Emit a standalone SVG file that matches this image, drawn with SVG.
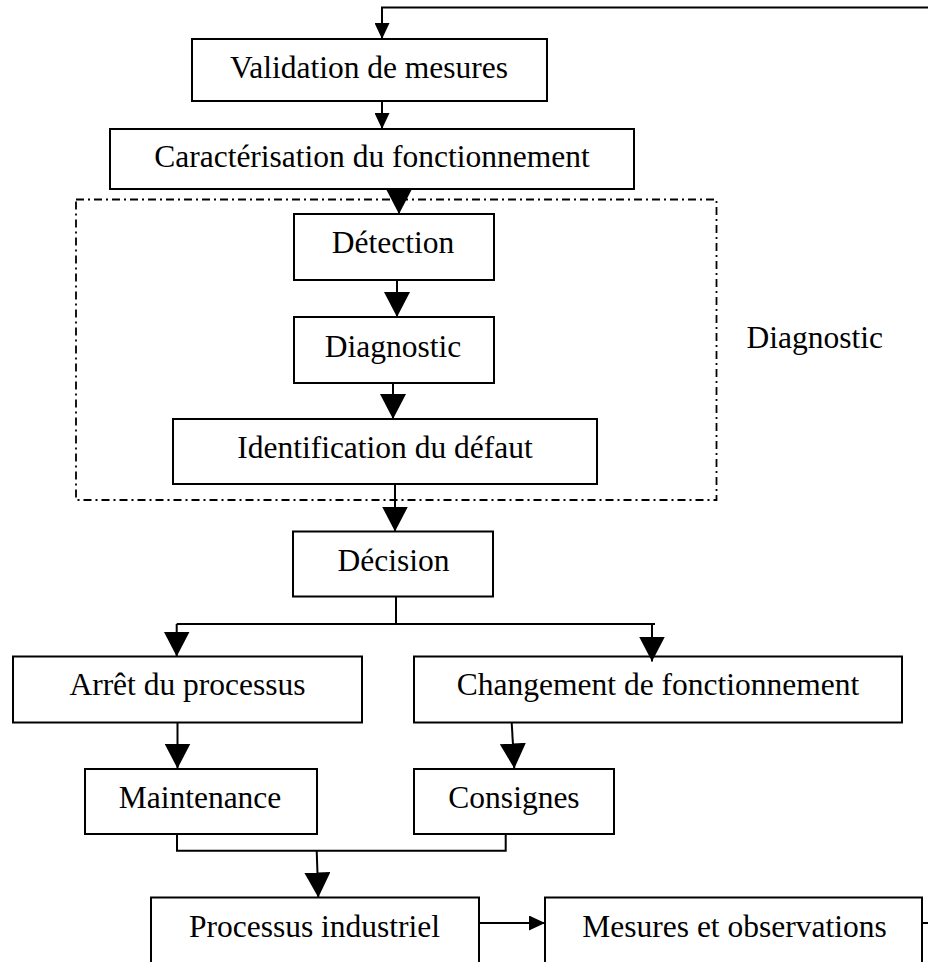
<svg xmlns="http://www.w3.org/2000/svg" width="928" height="962" viewBox="0 0 928 962">
<style>
.box{fill:#fff;stroke:#000;stroke-width:2}
.lbl{font-family:"Liberation Serif","Times New Roman",serif;font-size:31.5px;fill:#000;text-anchor:middle}
.ln{fill:none;stroke:#000;stroke-width:2}
.big{marker-end:url(#ah)}
.sm{marker-end:url(#as)}
</style>
<defs>
<marker id="ah" markerUnits="userSpaceOnUse" markerWidth="25" markerHeight="26" refX="25" refY="13" orient="auto" viewBox="0 0 25 26">
<path d="M0,0 L25,13 L0,26 z" fill="#000"/>
</marker>
<marker id="as" markerUnits="userSpaceOnUse" markerWidth="16" markerHeight="15" refX="16" refY="7.5" orient="auto" viewBox="0 0 16 15">
<path d="M0,0 L16,7.5 L0,15 z" fill="#000"/>
</marker>
</defs>
<rect width="928" height="962" fill="#fff"/>
<g id="diagnostic-group">
<rect x="76" y="199.5" width="640.5" height="300.5" fill="none" stroke="#000" stroke-width="1.8" stroke-dasharray="8 4 2 4"/>
<text class="lbl" x="746.5" y="348" style="text-anchor:start">Diagnostic</text>
</g>
<g id="validation"><rect class="box" x="192" y="39" width="355" height="62"/><text class="lbl" x="369" y="78">Validation de mesures</text></g>
<g id="caracterisation"><rect class="box" x="110" y="129" width="524" height="60"/><text class="lbl" x="372" y="166.5">Caractérisation du fonctionnement</text></g>
<g id="detection"><rect class="box" x="294" y="214" width="200" height="66"/><text class="lbl" x="393" y="253">Détection</text></g>
<g id="diagnostic"><rect class="box" x="294" y="317" width="200" height="66"/><text class="lbl" x="393" y="356.5">Diagnostic</text></g>
<g id="identification"><rect class="box" x="173" y="419" width="424" height="65"/><text class="lbl" x="385" y="458">Identification du défaut</text></g>
<g id="decision"><rect class="box" x="293" y="531.5" width="200" height="65"/><text class="lbl" x="393.5" y="570.5">Décision</text></g>
<g id="arret"><rect class="box" x="13" y="656.5" width="349" height="66"/><text class="lbl" x="187.5" y="695">Arrêt du processus</text></g>
<g id="changement"><rect class="box" x="414" y="656.5" width="488" height="66"/><text class="lbl" x="658" y="695">Changement de fonctionnement</text></g>
<g id="maintenance"><rect class="box" x="85" y="769" width="232" height="65"/><text class="lbl" x="200" y="807.5">Maintenance</text></g>
<g id="consignes"><rect class="box" x="414" y="769" width="200" height="65"/><text class="lbl" x="514" y="807.5">Consignes</text></g>
<g id="processus"><rect class="box" x="151" y="897.5" width="328" height="80"/><text class="lbl" x="314.5" y="936.5">Processus industriel</text></g>
<g id="mesures"><rect class="box" x="545" y="897.5" width="377" height="80"/><text class="lbl" x="734.5" y="936.5">Mesures et observations</text></g>
<g id="connectors">
<path class="ln sm" d="M930,7.5 H382 V39"/>
<path class="ln sm" d="M382,101 V129"/>
<path class="ln big" d="M399,189 V214"/>
<path class="ln big" d="M397,280 V317"/>
<path class="ln big" d="M393,383 V419"/>
<path class="ln big" d="M395,484 V531.5"/>
<path class="ln" d="M396,596.5 V624 M176.7,624 H655"/>
<path class="ln big" d="M176.7,624 V656.5"/>
<path class="ln big" d="M652,624 V661.5"/>
<path class="ln big" d="M177.5,722.5 V768.5"/>
<path class="ln big" d="M511.7,722.5 L514.3,768.5"/>
<path class="ln" d="M177,834 V850.7 H505.7 V834"/>
<path class="ln big" d="M316.7,850.7 L318.3,897.5"/>
<path class="ln sm" d="M479,923 H545"/>
<path class="ln" d="M922,923 H930"/>
</g>
</svg>
